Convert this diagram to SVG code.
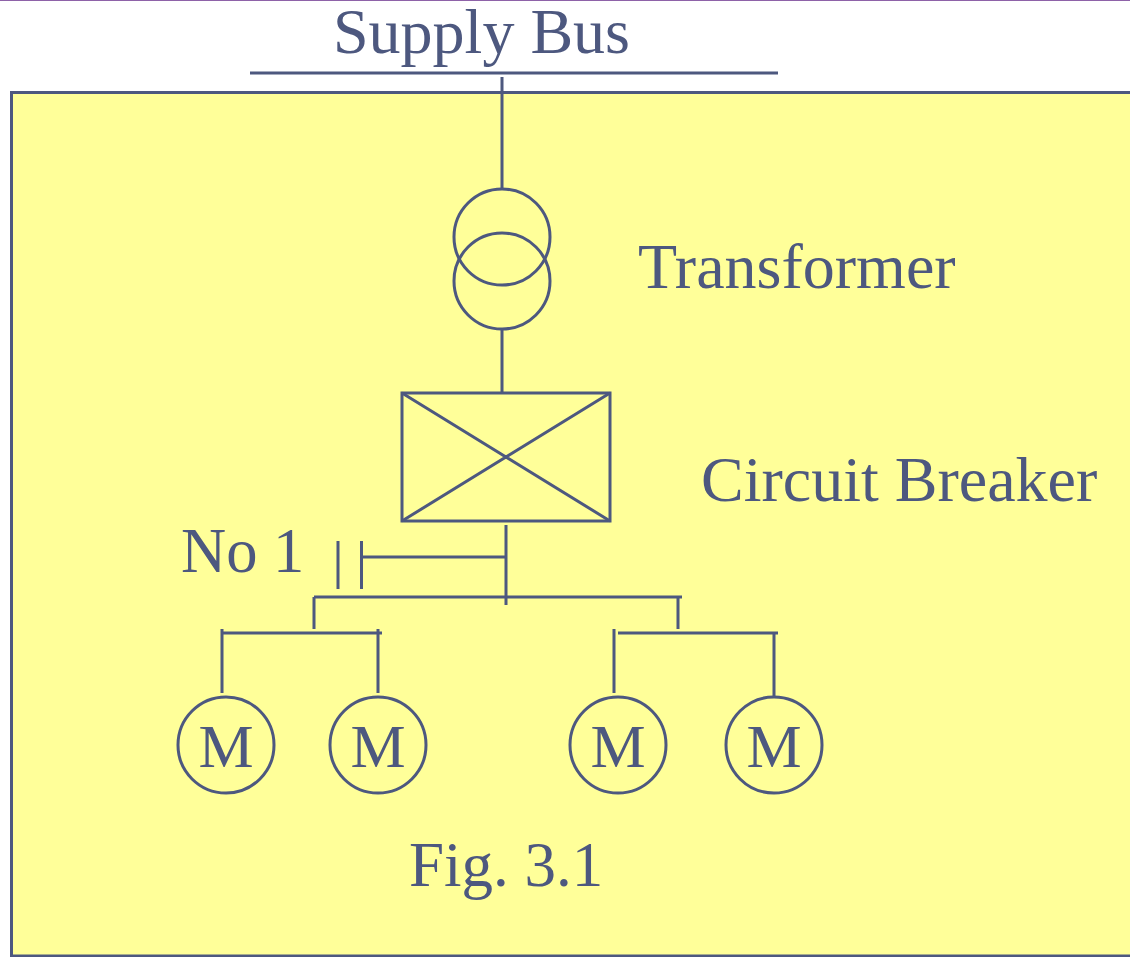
<svg xmlns="http://www.w3.org/2000/svg" width="1130" height="957" viewBox="0 0 1130 957">
<style>
.l{fill:none;stroke:#4d587f;stroke-width:3}
text{font-family:"Liberation Serif","Times New Roman",serif;fill:#4d587f;font-size:64px}
.m{text-anchor:middle;font-size:62px}
</style>
<rect x="0" y="0" width="1130" height="957" fill="#fff"/>
<rect x="0" y="0" width="1130" height="1" fill="#8e62a8"/>
<rect id="panel" x="11.500" y="92.500" width="1125" height="863.500" fill="#ffff99" stroke="#4d587f" stroke-width="3"/>
<g id="supply-bus"><text x="333" y="53">Supply Bus</text><path class="l" d="M250 73H778"/></g>
<g id="connectors">
<path class="l" d="M502 77V189M502 329V393M506 525V605M361 557H506M314 597H682M314 597V629M678 597V629M222 633H382M222 629V693M378 629V693M618 633H778M614 629V693M774 633V697"/>
</g>
<g id="transformer"><circle class="l" cx="502" cy="237" r="48"/><circle class="l" cx="502" cy="281" r="48"/><text x="638" y="288">Transformer</text></g>
<g id="circuit-breaker"><rect class="l" x="402" y="393" width="208" height="128"/><path class="l" d="M402 393L610 521M402 521L610 393"/><text x="701" y="501">Circuit Breaker</text></g>
<g id="no1"><text x="181" y="572" style="font-size:62.500px">No 1</text><path class="l" d="M338 541V589M361.500 541V589"/></g>
<g id="motor1"><circle class="l" cx="226" cy="745" r="48"/><text class="m" x="226" y="767">M</text></g>
<g id="motor2"><circle class="l" cx="378" cy="745" r="48"/><text class="m" x="378" y="767">M</text></g>
<g id="motor3"><circle class="l" cx="618" cy="745" r="48"/><text class="m" x="618" y="767">M</text></g>
<g id="motor4"><circle class="l" cx="774" cy="745" r="48"/><text class="m" x="774" y="767">M</text></g>
<g id="caption"><text x="409" y="886" style="font-size:63px">Fig. 3.1</text></g>
</svg>
